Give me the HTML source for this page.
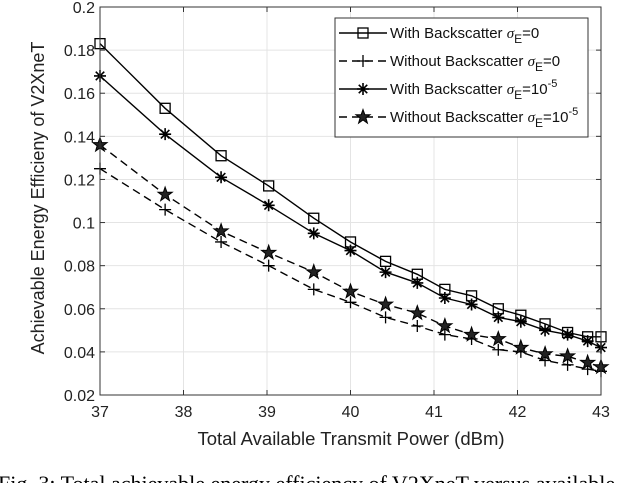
<!DOCTYPE html>
<html><head><meta charset="utf-8"><style>
body{margin:0;background:#fff;width:640px;height:483px;overflow:hidden}
svg{display:block;font-family:"Liberation Sans",sans-serif}
</style></head><body>
<svg id="chart" width="640" height="483">
<g id="grid"></g>
<g id="series"></g>
<g id="axes"></g>
<text x="351" y="445" font-size="18.5" text-anchor="middle" fill="#222">Total Available Transmit Power (dBm)</text>
<text transform="translate(44,198) rotate(-90)" font-size="18" text-anchor="middle" fill="#222">Achievable Energy Efficieny of V2XneT</text>
<text x="-2" y="491" font-size="22" font-family="Liberation Serif,serif" fill="#000">Fig. 3: Total achievable energy efficiency of V2XneT versus available</text>
<g id="legend"></g>
</svg>
<script>
const xTicks=[37,38,39,40,41,42,43];
const yTicks=[0.02,0.04,0.06,0.08,0.1,0.12,0.14,0.16,0.18,0.2];
const yTickLabels=["0.02","0.04","0.06","0.08","0.1","0.12","0.14","0.16","0.18","0.2"];
const powers=[37,37.78,38.45,39.02,39.56,40.0,40.42,40.8,41.13,41.45,41.77,42.04,42.33,42.6,42.84,43.0];
const withBS0=[0.183,0.153,0.131,0.117,0.102,0.091,0.082,0.076,0.069,0.066,0.060,0.057,0.053,0.049,0.047,0.047];
const withoutBS0=[0.125,0.106,0.091,0.080,0.069,0.063,0.056,0.052,0.048,0.046,0.041,0.040,0.036,0.034,0.032,0.031];
const withBS5=[0.168,0.141,0.121,0.108,0.095,0.087,0.077,0.072,0.065,0.062,0.056,0.054,0.050,0.048,0.045,0.042];
const withoutBS5=[0.136,0.113,0.096,0.086,0.077,0.068,0.062,0.058,0.052,0.048,0.046,0.042,0.039,0.038,0.035,0.033];
const L=100,R=601,T=7,B=395;
const xs=v=>L+(v-37)/6*(R-L);
const ys=v=>B-(v-0.02)/0.18*(B-T);
const NS='http://www.w3.org/2000/svg';
function mk(tag,attrs,parent){const e=document.createElementNS(NS,tag);for(const k in attrs)e.setAttribute(k,attrs[k]);parent.appendChild(e);return e;}
const grid=document.getElementById('grid'),axes=document.getElementById('axes'),ser=document.getElementById('series'),leg=document.getElementById('legend');
xTicks.forEach(t=>{const x=xs(t);
 const g=mk('line',{x1:x,x2:x,y1:T,y2:B,stroke:'#e4e4e4','stroke-width':1},grid);
 
 
 mk('line',{x1:x,x2:x,y1:B,y2:B-5,stroke:'#333'},axes);
 mk('line',{x1:x,x2:x,y1:T,y2:T+5,stroke:'#333'},axes);
 const tx=mk('text',{x:x,y:B+22,'font-size':16,'text-anchor':'middle',fill:'#222'},axes);tx.textContent=t;
 
 
});
yTicks.forEach((t,i)=>{const y=ys(t);
 const g=mk('line',{x1:L,x2:R,y1:y,y2:y,stroke:'#e4e4e4','stroke-width':1},grid);
 
 
 mk('line',{x1:L,x2:L+5,y1:y,y2:y,stroke:'#333'},axes);
 mk('line',{x1:R,x2:R-5,y1:y,y2:y,stroke:'#333'},axes);
 const tx=mk('text',{x:L-5,y:y+6,'font-size':16,'text-anchor':'end',fill:'#222'},axes);tx.textContent=yTickLabels[i];
 
 
});
const frame=mk('rect',{x:L,y:T,width:R-L,height:B-T,fill:'none',stroke:'#333','stroke-width':1},axes);


function marker(type,x,y,p){
 if(type==='sq')mk('rect',{x:x-5,y:y-5,width:10,height:10,fill:'none',stroke:'#000','stroke-width':1.3},p);
 else if(type==='plus'){mk('path',{d:`M${x-6},${y}H${x+6}M${x},${y-6}V${y+6}`,stroke:'#000','stroke-width':1.3},p);}
 else if(type==='ast'){let d='';for(let a=0;a<4;a++){const an=a*Math.PI/4;d+=`M${x-6*Math.cos(an)},${y-6*Math.sin(an)}L${x+6*Math.cos(an)},${y+6*Math.sin(an)}`;}mk('path',{d:d,stroke:'#000','stroke-width':1.6},p);}
 else if(type==='star'){let pts=[];for(let k=0;k<10;k++){const r=k%2?3:7.5,an=-Math.PI/2+k*Math.PI/5;pts.push((x+r*Math.cos(an)).toFixed(1)+','+(y+r*Math.sin(an)).toFixed(1));}mk('polygon',{points:pts.join(' '),fill:'#222',stroke:'#000','stroke-width':1},p);}
}
const seriesDefs=[[withBS0,'sq',false,'series-with-backscatter-sigma-0'],[withoutBS0,'plus',true,'series-without-backscatter-sigma-0'],[withBS5,'ast',false,'series-with-backscatter-sigma-1e-5'],[withoutBS5,'star',true,'series-without-backscatter-sigma-1e-5']];
seriesDefs.forEach(([vals,m,dash,name])=>{
 const g=mk('g',{},ser);
 
 
 const d=vals.map((v,i)=>(i?'L':'M')+xs(powers[i]).toFixed(1)+','+ys(v).toFixed(1)).join('');
 const a={d:d,fill:'none',stroke:'#000','stroke-width':1.4};if(dash)a['stroke-dasharray']='8,5';
 mk('path',a,g);
 vals.forEach((v,i)=>marker(m,xs(powers[i]),ys(v),g));
});
const lb=mk('rect',{x:335,y:18,width:253,height:119,fill:'#fff',stroke:'#333','stroke-width':1},leg);


const legLabels=[['With Backscatter ','0'],['Without Backscatter ','0'],['With Backscatter ','10'],['Without Backscatter ','10']];
seriesDefs.forEach((s,i)=>{
 const y=33+i*28;const g=mk('g',{},leg);
 
 
 const a={d:`M339,${y}H387`,stroke:'#000','stroke-width':1.4};if(s[2])a['stroke-dasharray']='8,5';
 mk('path',a,g);marker(s[1],363,y,g);
 const t=mk('text',{x:390,y:y+5,'font-size':15,fill:'#111'},g);
 t.innerHTML=legLabels[i][0]+'<tspan font-family="Liberation Serif,serif" font-style="italic">σ</tspan><tspan dy="5" font-size="12">E</tspan><tspan dy="-5">='+legLabels[i][1]+'</tspan>'+(legLabels[i][1]==='10'?'<tspan dy="-7" font-size="11">-5</tspan>':'');
});
</script>
</body></html>
